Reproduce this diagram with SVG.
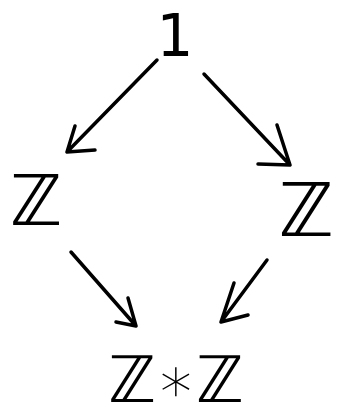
<svg xmlns="http://www.w3.org/2000/svg" width="345" height="418" viewBox="0 0 345 418">
<style>
.lbl{font-family:"DejaVu Sans",sans-serif;fill:#000;text-anchor:middle}
.arr{fill:none;stroke:#000;stroke-width:3.5;stroke-linecap:round;stroke-linejoin:round}
</style>
<rect width="345" height="418" fill="#fff"/>
<g id="one"><text class="lbl" x="175" y="56" font-size="58">1</text></g>
<g id="zleft"><text class="lbl" x="36" y="225" font-size="70">ℤ</text></g>
<g id="zright"><text class="lbl" x="306" y="236" font-size="74">ℤ</text></g>
<g id="zfree"><text class="lbl" x="176" y="402" font-size="64">ℤ<tspan font-weight="200">∗</tspan>ℤ</text></g>
<g id="connectors">
<path class="arr" d="M157,60 L67,152 M75,126 L67,152 L95,150"/>
<path class="arr" d="M204,74 L290,165 M277,125 L290,165 L258,164"/>
<path class="arr" d="M71,252 L136,326 M128,298 L136,326 L116,322"/>
<path class="arr" d="M267,260 L221,322 M234,283 L221,322 L248,315"/>
</g>
</svg>
